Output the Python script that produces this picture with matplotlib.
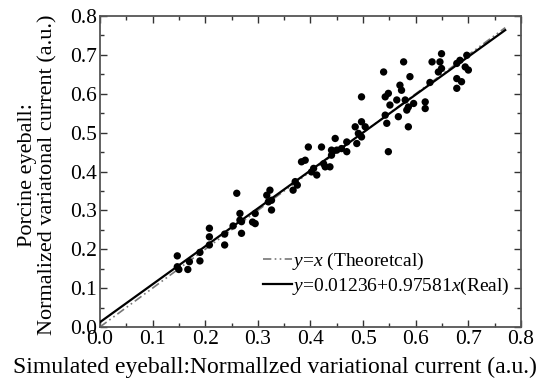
import matplotlib
matplotlib.use("Agg")
import matplotlib.pyplot as plt
import numpy as np
from matplotlib.ticker import MultipleLocator

plt.rcParams['font.family'] = ['Liberation Serif', 'DejaVu Serif']
plt.rcParams['mathtext.fontset'] = 'custom'
plt.rcParams['mathtext.rm'] = 'Liberation Serif'
plt.rcParams['mathtext.it'] = 'Liberation Serif:italic'

simulated = [0.147, 0.147, 0.150, 0.167, 0.170, 0.190, 0.190, 0.208, 0.208, 0.208,
             0.237, 0.237, 0.253, 0.269, 0.269, 0.290, 0.260, 0.266, 0.266, 0.295,
             0.295, 0.317, 0.323, 0.320, 0.326, 0.326, 0.367, 0.371, 0.375, 0.383,
             0.390, 0.396, 0.402, 0.406, 0.412, 0.421, 0.425, 0.428, 0.437, 0.440,
             0.440, 0.447, 0.450, 0.459, 0.469, 0.469, 0.485, 0.491, 0.488, 0.497,
             0.504, 0.497, 0.548, 0.542, 0.545, 0.567, 0.539, 0.577, 0.589, 0.631,
             0.649, 0.646, 0.542, 0.548, 0.570, 0.573, 0.564, 0.580, 0.586, 0.596,
             0.551, 0.586, 0.583, 0.618, 0.618, 0.627, 0.643, 0.649, 0.678, 0.684,
             0.697, 0.694, 0.700, 0.678, 0.687, 0.678, 0.497]
porcine = [0.183, 0.155, 0.148, 0.148, 0.168, 0.192, 0.170, 0.254, 0.232, 0.211,
           0.239, 0.211, 0.260, 0.271, 0.241, 0.270, 0.344, 0.292, 0.275, 0.292,
           0.266, 0.339, 0.352, 0.322, 0.301, 0.326, 0.352, 0.374, 0.365, 0.425,
           0.429, 0.463, 0.399, 0.408, 0.391, 0.463, 0.420, 0.412, 0.412, 0.455,
           0.442, 0.485, 0.455, 0.459, 0.476, 0.451, 0.515, 0.498, 0.472, 0.528,
           0.515, 0.489, 0.451, 0.545, 0.524, 0.541, 0.656, 0.682, 0.644, 0.682,
           0.703, 0.682, 0.592, 0.601, 0.622, 0.609, 0.584, 0.584, 0.566, 0.575,
           0.571, 0.515, 0.558, 0.579, 0.562, 0.629, 0.656, 0.665, 0.678, 0.686,
           0.699, 0.669, 0.661, 0.639, 0.631, 0.614, 0.592]

intercept = 0.01236
slope = 0.97581
line_end = 0.77

fig = plt.figure(figsize=(5.49, 3.81), dpi=100)
ax = fig.add_axes([0.182, 0.1417, 0.767, 0.8163])

xs = np.array([0.0, line_end])
ax.plot(xs, xs, color='#777777', lw=1.2, ls=(0, (5, 2, 1, 2, 1, 2)),
        label=r'$y$=$x$ (Theoretcal)', zorder=2)
ax.plot(xs, intercept + slope * xs, color='black', lw=1.6,
        label=r'$y$=0.01236+0.97581$x$(Real)', zorder=3)
ax.scatter(simulated, porcine, s=28, color='black', edgecolors='none', zorder=4)

ax.set_xlim(0, 0.8)
ax.set_ylim(0, 0.8)
ax.xaxis.set_major_locator(MultipleLocator(0.1))
ax.yaxis.set_major_locator(MultipleLocator(0.1))
ax.xaxis.set_minor_locator(MultipleLocator(0.05))
ax.yaxis.set_minor_locator(MultipleLocator(0.05))
ax.xaxis.set_major_formatter(plt.FuncFormatter(lambda v, p: f"{v:.1f}"))
ax.yaxis.set_major_formatter(plt.FuncFormatter(lambda v, p: f"{v:.1f}"))
ax.tick_params(which='both', direction='in', top=True, right=True,
               labelsize=15.5, color='#333333', pad=2)
ax.tick_params(which='major', length=5, width=1)
ax.tick_params(which='minor', length=3, width=1)
for s in ax.spines.values():
    s.set_color('#555555')
    s.set_linewidth(1.3)

ax.set_xlabel('Simulated eyeball:Normallzed variational current (a.u.)',
              fontsize=17)
ax.xaxis.set_label_coords(0.416, -0.095)
ax.set_ylabel('Porcine eyeball:\nNormalized variatonal current (a.u.)',
              fontsize=16, linespacing=1.1)
ax.yaxis.set_label_coords(-0.10, 0.49)

leg = ax.legend(loc='lower right', bbox_to_anchor=(1.0, 0.06), frameon=False,
                fontsize=14, handlelength=1.5, handletextpad=0.0,
                labelspacing=0.2, borderaxespad=0.2)

fig.savefig('out.png', dpi=100)
